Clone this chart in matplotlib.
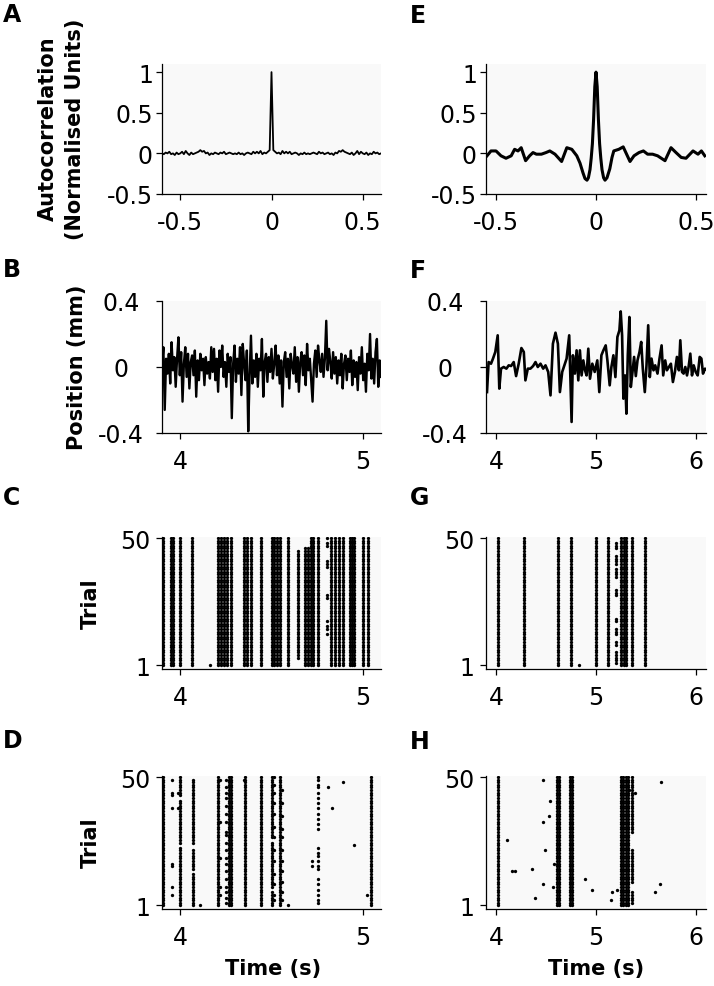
import matplotlib
matplotlib.use("Agg")
import matplotlib.pyplot as plt
import numpy as np

plt.rcParams['font.family'] = ['DejaVu Sans']
plt.rcParams['axes.unicode_minus'] = False

# ---- panel A: autocorrelation of white-noise stimulus (lag -0.6..0.6 s, 0.01 s steps)
A_vals = [0.00, -0.01, 0.01, 0.00, 0.02, -0.01, 0.00, -0.02, 0.01, -0.01,
          0.00, 0.02, -0.01, 0.03, 0.00, -0.02, 0.01, -0.01, 0.00, 0.01,
          0.02, 0.04, 0.02, 0.03, 0.00, 0.01, -0.02, 0.00, -0.01, 0.01,
          0.00, -0.01, 0.01, 0.00, 0.02, -0.01, 0.00, 0.01, 0.00, -0.01,
          0.00, -0.01, 0.01, -0.01, 0.00, -0.02, 0.00, 0.01, 0.00, -0.01,
          0.02, 0.00, 0.02, 0.00, 0.03, -0.01, 0.01, 0.00, 0.02, 0.04,
          1.00,
          0.04, 0.02, 0.00, 0.01, -0.01, 0.03, 0.00, 0.02, 0.00, 0.02,
          -0.01, 0.00, 0.01, 0.00, -0.02, 0.00, -0.01, 0.01, -0.01, 0.00,
          -0.01, 0.00, 0.01, 0.00, -0.01, 0.02, 0.00, 0.01, -0.01, 0.00,
          0.01, -0.01, 0.00, -0.02, 0.01, 0.00, 0.03, 0.02, 0.04, 0.02,
          0.01, 0.00, -0.01, 0.01, -0.02, 0.00, 0.03, -0.01, 0.02, 0.00,
          -0.01, 0.01, -0.02, 0.00, -0.01, 0.02, 0.00, 0.01, -0.01, 0.00]

# ---- panel E: autocorrelation of filtered stimulus
E_lag = [-0.545, -0.525, -0.50, -0.475, -0.45, -0.424, -0.407, -0.39, -0.374, -0.352,
         -0.332, -0.315, -0.298, -0.273, -0.25, -0.231, -0.205, -0.172, -0.146, -0.121,
         -0.096, -0.08, -0.065, -0.055, -0.045, -0.038, -0.03, -0.024, -0.018, -0.012,
         -0.006, 0.0, 0.006, 0.012, 0.018, 0.024, 0.03, 0.038, 0.045, 0.055,
         0.069, 0.08, 0.089, 0.114, 0.136, 0.153, 0.17, 0.19, 0.215, 0.237,
         0.258, 0.283, 0.308, 0.345, 0.375, 0.40, 0.426, 0.45, 0.485, 0.51,
         0.527, 0.544]
E_vals = [-0.03, 0.03, 0.03, -0.03, -0.06, -0.03, 0.05, 0.03, 0.07, -0.09,
          -0.03, 0.01, -0.01, -0.01, 0.01, 0.03, -0.01, -0.10, 0.07, 0.05,
          -0.03, -0.12, -0.24, -0.31, -0.33, -0.30, -0.20, -0.06, 0.12, 0.42,
          0.82, 1.00, 0.82, 0.42, 0.12, -0.06, -0.20, -0.30, -0.33, -0.30,
          -0.19, -0.05, 0.03, 0.05, 0.08, -0.01, -0.10, -0.03, 0.01, 0.03,
          -0.01, -0.01, -0.03, -0.09, 0.07, 0.01, -0.05, -0.06, 0.03, -0.01,
          0.03, -0.03]

# ---- panel B: white-noise position trace (mm), 3.9..5.1 s
B_pos = [0.00, 0.12, -0.26, 0.05, -0.04, 0.08, -0.10, 0.15, -0.02, 0.06,
         -0.12, 0.05, 0.18, -0.05, 0.09, -0.21, 0.02, 0.12, -0.06, 0.08,
         -0.13, 0.03, 0.07, -0.05, 0.10, -0.18, 0.04, -0.08, 0.08, -0.02,
         0.05, -0.11, 0.06, -0.04, 0.03, -0.07, 0.12, -0.03, 0.11, -0.08,
         0.05, -0.15, 0.10, 0.00, 0.13, -0.06, 0.03, -0.12, 0.08, -0.03,
         0.06, -0.31, 0.02, 0.13, -0.09, 0.05, -0.04, 0.12, -0.17, 0.14,
         0.02, -0.08, 0.10, -0.39, -0.05, 0.19, -0.10, 0.04, -0.06, 0.08,
         -0.12, 0.05, -0.02, 0.17, -0.18, 0.03, 0.08, -0.09, 0.06, -0.03,
         0.11, -0.07, 0.02, 0.13, -0.05, 0.07, -0.10, 0.04, -0.24, 0.03,
         0.09, -0.06, 0.05, -0.13, 0.08, 0.01, -0.04, 0.12, -0.09, 0.06,
         -0.15, 0.03, 0.09, -0.05, 0.07, -0.11, 0.14, -0.02, 0.05, -0.08,
         -0.21, 0.02, 0.10, -0.06, 0.13, 0.04, -0.03, 0.08, -0.06, 0.05,
         0.28, -0.02, 0.11, 0.03, -0.07, 0.09, -0.04, 0.06, -0.10, 0.04,
         -0.05, 0.08, -0.13, 0.02, 0.07, -0.08, 0.05, -0.03, 0.10, -0.11,
         0.04, -0.06, 0.03, -0.14, 0.06, -0.04, 0.12, -0.08, 0.02, -0.15,
         0.08, -0.02, 0.20, -0.07, 0.05, -0.10, 0.09, 0.17, -0.12, 0.04,
         -0.06]

# ---- panel F: filtered position trace (mm)
F_t = [3.910, 3.926, 3.950, 3.970, 3.993, 4.017, 4.033, 4.050, 4.077, 4.104,
       4.127, 4.151, 4.177, 4.201, 4.227, 4.254, 4.278, 4.294, 4.318, 4.344,
       4.371, 4.395, 4.418, 4.445, 4.472, 4.495, 4.522, 4.545, 4.569, 4.595,
       4.619, 4.639, 4.662, 4.706, 4.732, 4.756, 4.769, 4.789, 4.806, 4.823,
       4.839, 4.856, 4.873, 4.890, 4.906, 4.923, 4.940, 4.963, 4.987, 5.013,
       5.033, 5.054, 5.074, 5.097, 5.114, 5.137, 5.154, 5.174, 5.194, 5.214,
       5.234, 5.247, 5.261, 5.274, 5.291, 5.304, 5.318, 5.334, 5.348, 5.365,
       5.381, 5.398, 5.415, 5.435, 5.452, 5.468, 5.488, 5.505, 5.522, 5.538,
       5.555, 5.575, 5.592, 5.615, 5.635, 5.656, 5.672, 5.692, 5.709, 5.729,
       5.749, 5.769, 5.789, 5.809, 5.829, 5.843, 5.860, 5.876, 5.893, 5.910,
       5.926, 5.943, 5.960, 5.977, 5.997, 6.017, 6.037, 6.054, 6.070, 6.090,
       6.110]
F_pos = [-0.152, 0.030, 0.020, 0.051, 0.091, 0.192, -0.131, -0.010, 0.000, -0.010,
         0.010, 0.006, 0.030, -0.055, 0.020, 0.115, 0.091, -0.081, -0.010, -0.010,
         0.006, 0.030, 0.000, 0.020, -0.010, 0.010, -0.030, -0.172, 0.141, 0.208,
         0.141, -0.152, -0.030, 0.051, 0.192, -0.333, 0.071, -0.040, 0.101, -0.081,
         0.101, -0.051, 0.040, -0.020, -0.051, 0.111, -0.071, 0.020, -0.030, 0.040,
         -0.152, 0.071, 0.101, 0.131, 0.040, -0.111, 0.000, 0.071, -0.061, 0.182,
         0.222, 0.337, 0.192, -0.192, -0.051, -0.283, 0.071, 0.303, -0.121, -0.030,
         0.061, -0.055, 0.040, 0.091, 0.152, -0.010, -0.152, 0.010, 0.253, -0.061,
         0.051, -0.020, 0.010, -0.040, 0.051, 0.131, -0.051, 0.040, -0.020, 0.000,
         0.020, -0.091, -0.030, 0.061, -0.020, 0.162, -0.030, -0.040, 0.000, -0.051,
         0.000, 0.081, -0.051, 0.010, -0.030, -0.051, 0.061, 0.051, -0.040, -0.010,
         -0.020]

# ---- rasters: columns present on every trial, partial columns (time, first, last), single spikes
C_full = [3.905, 3.950, 3.963, 3.996, 4.066, 4.207, 4.225, 4.240, 4.258, 4.277,
          4.350, 4.368, 4.390, 4.441, 4.500, 4.515, 4.531, 4.546, 4.592, 4.716,
          4.729, 4.756, 4.826, 4.848, 4.870, 4.894, 4.930, 4.942, 4.954, 5.004, 5.031]
C_part = [(4.643, 4, 45), (4.683, 1, 46), (4.698, 1, 46)]
C_dot_t = [4.163, 4.802, 4.802, 4.802, 4.802, 4.802, 4.802, 4.802, 4.802, 4.802, 4.802, 4.802, 4.802]
C_dot_trial = [1, 50, 48, 47, 41, 40, 39, 28, 27, 18, 16, 15, 13]

D_full = [3.900, 3.908, 4.207, 4.267, 4.280, 4.357, 4.445, 4.548, 5.046]
D_part = [(3.996, 1, 23), (3.996, 25, 41), (3.996, 43, 50),
          (4.069, 1, 13), (4.069, 15, 22), (4.069, 25, 49),
          (4.504, 1, 6), (4.504, 8, 25), (4.504, 27, 50)]
D_dot_t = ([3.954] * 8 + [3.985] * 2 + [4.110] + [4.220] * 5 + [4.253] * 19 + [4.350]
           + [4.515] * 13 + [4.556] * 11 + [4.592] + [4.720] * 2 + [4.753] * 24
           + [4.808, 4.833, 4.890, 4.952, 5.022])
D_dot_trial = ([49, 44, 43, 38, 17, 16, 8, 5] + [44, 38] + [1] + [49, 33, 19, 8, 5]
               + [49, 46, 44, 42, 39, 36, 33, 29, 28, 25, 22, 19, 17, 14, 11, 8, 6, 4, 2] + [49]
               + [50, 47, 44, 40, 36, 31, 27, 22, 18, 13, 9, 5, 3]
               + [45, 40, 35, 30, 27, 22, 18, 14, 10, 6, 3] + [1] + [18, 16]
               + [50, 49, 47, 46, 44, 42, 40, 38, 36, 34, 32, 30, 23, 21, 20, 18, 16, 15,
                  11, 9, 7, 5, 3, 2]
               + [46, 38, 48, 24, 5])

G_full = [4.017, 4.281, 4.619, 4.749, 5.003, 5.120, 5.254, 5.278, 5.301, 5.361, 5.488]
G_part = [(5.200, 2, 6), (5.200, 9, 10), (5.200, 13, 15), (5.200, 18, 19),
          (5.200, 28, 30), (5.200, 35, 38), (5.200, 40, 43), (5.200, 46, 48)]
G_dot_t = [4.826]
G_dot_trial = [1]

H_full = [4.017, 4.613, 4.627, 4.742, 4.760, 5.254, 5.271, 5.301, 5.318]
H_part = [(5.361, 29, 50), (5.361, 10, 22), (5.361, 2, 6)]
H_dot_t = [4.468, 4.107, 4.157, 4.190, 4.358, 4.542, 4.532, 4.468, 4.492, 4.575,
           4.472, 4.572, 4.391, 4.893, 4.957, 5.161, 5.211, 5.151, 5.334, 5.385,
           5.645, 5.635, 5.589]
H_dot_trial = [49, 26, 14, 14, 15, 41, 35, 33, 22, 17,
               9, 8, 4, 11, 7, 6, 7, 3, 45, 44,
               48, 9, 6]

W, H = 714, 987
BG = '#f9f9f9'


def px_rect(left, right, top, bottom):
    return [left / W, 1 - bottom / H, (right - left) / W, (bottom - top) / H]


def style(ax, ypad=2, yha='right'):
    ax.set_facecolor(BG)
    ax.spines['top'].set_visible(False)
    ax.spines['right'].set_visible(False)
    ax.spines['left'].set_linewidth(0.9)
    ax.spines['bottom'].set_linewidth(0.9)
    ax.tick_params(axis='both', direction='out', length=4.5, width=0.9, labelsize=17)
    ax.tick_params(axis='x', pad=7)
    ax.tick_params(axis='y', pad=ypad)
    for lab in ax.get_yticklabels():
        lab.set_horizontalalignment(yha)


def raster(ax, full, part, dot_t, dot_trial, xlim, xticks):
    xs, ys = [], []
    for t in full:
        for tr in range(1, 51):
            xs.append(t)
            ys.append(tr)
    for t, lo, hi in part:
        for tr in range(lo, hi + 1):
            xs.append(t)
            ys.append(tr)
    xs += list(dot_t)
    ys += list(dot_trial)
    ax.plot(xs, ys, 'o', ms=2.4, mew=0, color='k')
    ax.set_xlim(*xlim)
    ax.set_ylim(-0.2, 50.5)
    ax.set_xticks(xticks)
    ax.set_xticklabels([str(v) for v in xticks])
    ax.set_yticks([1, 50])
    ax.set_yticklabels(['1', '50'])
    style(ax, ypad=4)


fig = plt.figure(figsize=(W / 100, H / 100), dpi=100)

rows = [(65, 195), (302, 434), (537.7, 669.6), (776.7, 909.6)]
cols = [(162, 381), (486, 706)]

axA = fig.add_axes(px_rect(cols[0][0], cols[0][1], *rows[0]))
axE = fig.add_axes(px_rect(cols[1][0], cols[1][1], *rows[0]))
axB = fig.add_axes(px_rect(cols[0][0], cols[0][1], *rows[1]))
axF = fig.add_axes(px_rect(cols[1][0], cols[1][1], *rows[1]))
axC = fig.add_axes(px_rect(cols[0][0], cols[0][1], *rows[2]))
axG = fig.add_axes(px_rect(cols[1][0], cols[1][1], *rows[2]))
axD = fig.add_axes(px_rect(cols[0][0], cols[0][1], *rows[3]))
axH = fig.add_axes(px_rect(cols[1][0], cols[1][1], *rows[3]))

# autocorrelations
axA.plot(np.linspace(-0.6, 0.6, len(A_vals)), A_vals, color='k', lw=1.3)
axE.plot(E_lag, E_vals, color='k', lw=2.2, solid_joinstyle='round')
for ax, xl in ((axA, (-0.6, 0.6)), (axE, (-0.55, 0.55))):
    ax.set_xlim(*xl)
    ax.set_ylim(-0.5, 1.1)
    ax.set_xticks([-0.5, 0, 0.5])
    ax.set_xticklabels(['-0.5', '0', '0.5'])
    ax.set_yticks([-0.5, 0, 0.5, 1])
    ax.set_yticklabels(['-0.5', '0', '0.5', '1'])
    style(ax, ypad=2)

# position traces
axB.plot(np.linspace(3.9, 5.1, len(B_pos)), B_pos, color='k', lw=1.7)
axF.plot(F_t, F_pos, color='k', lw=1.9)
for ax, xl, xt in ((axB, (3.9, 5.1), [4, 5]), (axF, (3.9, 6.1), [4, 5, 6])):
    ax.set_xlim(*xl)
    ax.set_ylim(-0.4, 0.4)
    ax.set_xticks(xt)
    ax.set_xticklabels([str(v) for v in xt])
    ax.set_yticks([-0.4, 0, 0.4])
    ax.set_yticklabels(['-0.4', '0', '0.4'])
    style(ax, ypad=25, yha='center')

# rasters
raster(axC, C_full, C_part, C_dot_t, C_dot_trial, (3.9, 5.1), [4, 5])
raster(axD, D_full, D_part, D_dot_t, D_dot_trial, (3.9, 5.1), [4, 5])
raster(axG, G_full, G_part, G_dot_t, G_dot_trial, (3.9, 6.1), [4, 5, 6])
raster(axH, H_full, H_part, H_dot_t, H_dot_trial, (3.9, 6.1), [4, 5, 6])

# panel letters
letters = [('A', 3, 22), ('B', 3, 277), ('C', 3, 505), ('D', 3, 748),
           ('E', 410, 23), ('F', 410, 278), ('G', 410, 505), ('H', 410, 749)]
for s, x, y in letters:
    fig.text(x / W, 1 - y / H, s, fontsize=17, fontweight='bold', ha='left', va='baseline')

# axis labels
fig.text(61.5 / W, 1 - 129 / H, 'Autocorrelation\n(Normalised Units)', rotation=90,
         fontsize=15, fontweight='bold', ha='center', va='center', linespacing=1.45)
fig.text(77 / W, 1 - 367 / H, 'Position (mm)', rotation=90, fontsize=15,
         fontweight='bold', ha='center', va='center')
fig.text(91 / W, 1 - 604 / H, 'Trial', rotation=90, fontsize=15,
         fontweight='bold', ha='center', va='center')
fig.text(91 / W, 1 - 843 / H, 'Trial', rotation=90, fontsize=15,
         fontweight='bold', ha='center', va='center')
fig.text(273 / W, 1 - 975 / H, 'Time (s)', fontsize=15, fontweight='bold',
         ha='center', va='baseline')
fig.text(596 / W, 1 - 975 / H, 'Time (s)', fontsize=15, fontweight='bold',
         ha='center', va='baseline')

fig.savefig('out.png', dpi=100)
